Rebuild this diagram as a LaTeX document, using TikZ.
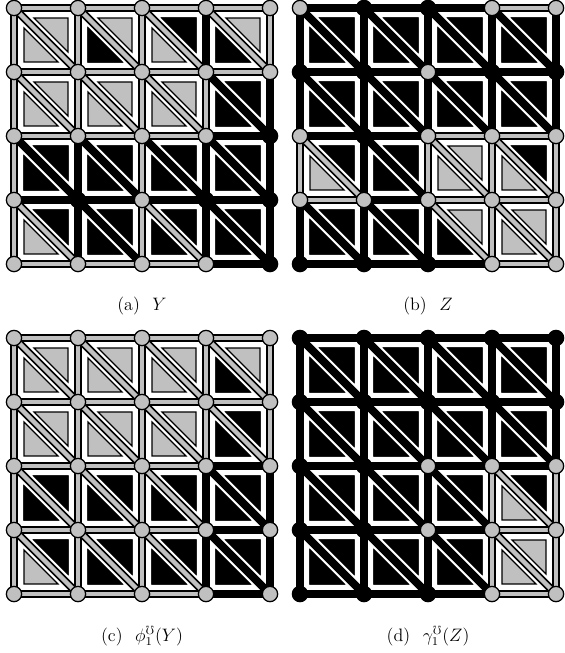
\documentclass[tikz,border=0pt]{standalone}
\usepackage{amssymb}
\definecolor{gfill}{RGB}{192,192,192}
\tikzset{
  edgeout/.style={line width=5.3pt, draw=black},
  edgein/.style={line width=3.0pt, draw=gfill},
  tri/.style={draw=black, line width=0.85pt, fill=gfill, line join=miter},
  btri/.style={draw=black, line width=0.85pt, fill=black, line join=miter},
  vgray/.style={circle, draw=black, line width=0.85pt, fill=gfill, minimum size=10.2pt, inner sep=0pt},
  vblack/.style={vgray, fill=black},
  capt/.style={anchor=base, inner sep=0pt, font=\large}
}
\newcommand\drawpanel[9]{%
 \begin{scope}[shift={(#2,#3)}]
  \foreach \i in {0,...,4}{\foreach \j in {0,...,4}{\coordinate (#1-\i-\j) at (64*\i,64*\j);}}
  % triangles (all grey, then the black ones on top)
  \foreach \ci in {0,...,3}{\foreach \ri in {0,...,3}{
     \draw[tri] (64*\ci+20.05,64*\ri+10.03) -- (64*\ci+53.97,64*\ri+10.03) -- (64*\ci+53.97,64*\ri+43.95) -- cycle;
     \draw[tri] (64*\ci+10.03,64*\ri+20.05) -- (64*\ci+10.03,64*\ri+53.97) -- (64*\ci+43.95,64*\ri+53.97) -- cycle;}}
  \foreach \ci/\ri in {#7}{
     \draw[btri] (64*\ci+20.05,64*\ri+10.03) -- (64*\ci+53.97,64*\ri+10.03) -- (64*\ci+53.97,64*\ri+43.95) -- cycle;}
  \foreach \ci/\ri in {#8}{
     \draw[btri] (64*\ci+10.03,64*\ri+20.05) -- (64*\ci+10.03,64*\ri+53.97) -- (64*\ci+43.95,64*\ri+53.97) -- cycle;}
  % edges: black body for all
  \foreach \i in {0,...,3}{\foreach \j in {0,...,4}{\pgfmathtruncatemacro\ni{\i+1}\draw[edgeout] (#1-\i-\j) -- (#1-\ni-\j);}}
  \foreach \i in {0,...,4}{\foreach \j in {0,...,3}{\pgfmathtruncatemacro\nj{\j+1}\draw[edgeout] (#1-\i-\j) -- (#1-\i-\nj);}}
  \foreach \i in {0,...,3}{\foreach \j in {0,...,3}{\pgfmathtruncatemacro\ni{\i+1}\pgfmathtruncatemacro\nj{\j+1}\draw[edgeout] (#1-\i-\j) -- (#1-\ni-\nj);}}
  % grey cores
  \foreach \i/\j in {#4}{\pgfmathtruncatemacro\ni{\i+1}\draw[edgein] (#1-\i-\j) -- (#1-\ni-\j);}
  \foreach \i/\j in {#5}{\pgfmathtruncatemacro\nj{\j+1}\draw[edgein] (#1-\i-\j) -- (#1-\i-\nj);}
  \foreach \i/\j in {#6}{\pgfmathtruncatemacro\ni{\i+1}\pgfmathtruncatemacro\nj{\j+1}\draw[edgein] (#1-\i-\j) -- (#1-\ni-\nj);}
  % vertices
  \foreach \p in {#9}{\expandafter\gdef\csname isblk-#1-\p\endcsname{}}
  \foreach \i in {0,...,4}{\foreach \j in {0,...,4}{%
     \ifcsname isblk-#1-\i-\j\endcsname\def\vst{vblack}\else\def\vst{vgray}\fi
     \node[\vst] (v#1-\i-\j) at (#1-\i-\j) {};}}
 \end{scope}}
\begin{document}
\begin{tikzpicture}[x=0.66667pt,y=-0.66667pt]
\useasboundingbox (0,0) rectangle (564,653);
% (a) Y
\drawpanel{a}{14}{8}
 {0/0,1/0,2/0,3/0,0/1,1/1,2/1,3/1,0/2,1/2,2/2,0/4,1/4,2/4}
 {0/0,0/1,0/2,0/3,1/0,1/1,2/0,2/1,2/2,2/3,3/1,4/0}
 {0/0,1/0,2/0,3/0,0/1,1/1,2/1,0/3,2/3}
 {2/0,3/1,0/2,1/2,2/2,3/2,0/3,1/3,2/3,3/3}
 {1/0,3/0,3/1,0/2,1/2,2/2,3/2,1/3,2/3,3/3}
 {1-3,3-3,4-2,4-3,4-4}
% (b) Z
\drawpanel{b}{300}{8}
 {3/0,2/2,3/2,0/3,2/3,3/3,3/4}
 {0/2,2/2,3/2,3/3,4/2,4/3}
 {0/2,2/2,3/2,2/3,3/3}
 {0/0,1/0,2/0,3/0,0/1,1/1,2/1,3/1,0/2,1/2,3/2,0/3,1/3}
 {0/0,1/0,2/0,3/0,0/1,1/1,2/1,3/1,1/2,0/3,1/3,2/3}
 {1-0,2-0,0-1,1-1,3-1,4-1,1-2,0-4,1-4,2-4}
% (c) phi(Y)
\drawpanel{c}{14}{338}
 {0/0,1/0,2/0,3/0,0/1,1/1,2/1,3/1,0/2,1/2,2/2,0/3,1/3,2/3,0/4,1/4,2/4}
 {0/0,0/1,0/2,0/3,1/0,1/1,1/2,1/3,2/0,2/1,2/2,2/3,3/0,3/1,4/0,4/1}
 {0/0,1/0,2/0,3/0,0/1,1/1,2/1,3/1,0/2,1/2,2/2,0/3,1/3,2/3}
 {3/1,0/2,1/2,2/2,3/2,0/3,1/3,2/3,3/3}
 {3/0,3/1,0/2,1/2,2/2,3/2,1/3,2/3,3/3}
 {9-9}
% (d) gamma(Z)
\drawpanel{d}{300}{338}
 {3/3,3/4}
 {3/2,3/3,4/2,4/3}
 {3/2,3/3}
 {0/0,1/0,2/0,3/0,0/1,1/1,2/1,3/1,0/2,1/2,2/2,3/2,0/3,1/3,2/3}
 {0/0,1/0,2/0,3/0,0/1,1/1,2/1,3/1,0/2,1/2,2/2,0/3,1/3,2/3}
 {0-0,1-0,2-0,3-0,4-0,0-1,1-1,2-1,3-1,4-1,0-2,1-2,0-3,1-3,0-4,1-4,2-4}
% captions
\node[capt] (capa) at (142,310) {(a)\hspace{0.7em}$Y$};
\node[capt] (capb) at (428,310) {(b)\hspace{0.7em}$Z$};
\node[capt] (capc) at (142,641) {(c)\hspace{0.7em}$\phi_1^{\mho}(Y)$};
\node[capt] (capd) at (428,641) {(d)\hspace{0.7em}$\gamma_1^{\mho}(Z)$};
\end{tikzpicture}
\end{document}
